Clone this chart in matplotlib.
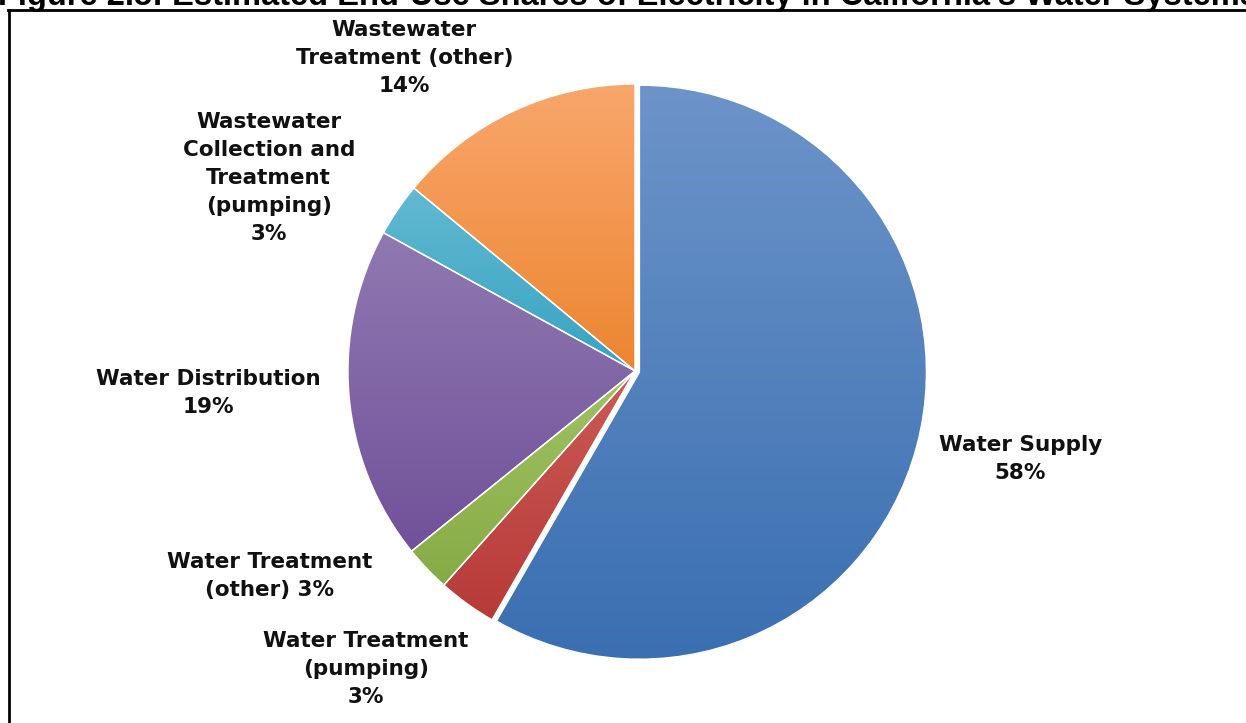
import numpy as np
import matplotlib
matplotlib.use("Agg")
import matplotlib.pyplot as plt
from matplotlib.colors import LinearSegmentedColormap
from matplotlib.lines import Line2D

# end-use shares of electricity, clockwise from 12 o'clock
categories = [
    "Water Supply",
    "Water Treatment\n(pumping)",
    "Water Treatment\n(other)",
    "Water Distribution",
    "Wastewater\nCollection and\nTreatment\n(pumping)",
    "Wastewater\nTreatment (other)",
]
shares = [58.3, 3.3, 2.6, 18.8, 3.0, 14.0]

# (top, bottom) shades for the vertical gradient on each slice
top_colors = ["#6d94c9", "#cb5a55", "#a3c264", "#9079b1", "#63b9d1", "#f9a66c"]
bottom_colors = ["#3a6fb1", "#b73b38", "#86ab45", "#71519a", "#37a3c3", "#ec8630"]

# where each label sits, in pie-radius units from the centre
label_pos = [(1.343, -0.305), (-0.937, -1.040), (-1.273, -0.714),
             (-1.486, -0.077), (-1.276, 0.674), (-0.804, 1.090)]
# which labels put the percent on its own line
pct_newline = [True, True, False, True, True, True]

W, H = 1246, 723
cx, cy, R = 635, 371, 287

fig = plt.figure(figsize=(W / 100, H / 100), dpi=100)
ax = fig.add_axes([0, 0, 1, 1])

wedges, _ = ax.pie(shares, startangle=90, counterclock=False,
                   explode=[0.016, 0, 0, 0, 0, 0],
                   wedgeprops=dict(edgecolor="white", linewidth=1.0))

for w, c0, c1 in zip(wedges, top_colors, bottom_colors):
    ext = w.get_path().get_extents()
    cmap = LinearSegmentedColormap.from_list("g", [c0, c1])
    grad = np.linspace(0, 1, 256).reshape(-1, 1)
    im = ax.imshow(grad, cmap=cmap, aspect="auto", origin="upper",
                   extent=(ext.x0, ext.x1, ext.y0, ext.y1), zorder=0.5,
                   interpolation="bilinear")
    im.set_clip_path(w)
    w.set_facecolor("none")

for name, val, (lx, ly), nl in zip(categories, shares, label_pos, pct_newline):
    sep = "\n" if nl else " "
    ax.text(lx, ly, f"{name}{sep}{val:.0f}%", ha="center", va="center",
            multialignment="center", fontsize=15.5, fontweight="bold",
            family="DejaVu Sans", linespacing=1.5, color="#111111")

ax.set_xlim(-cx / R, (W - cx) / R)
ax.set_ylim((cy - H) / R, cy / R)
ax.set_aspect("auto")
ax.axis("off")

# heading, partly cut off above the frame
fig.text(-2 / W, 1 - 5.5 / H,
         "Figure 2.5: Estimated End-Use Shares of Electricity in "
         "California's Water Systems",
         ha="left", va="baseline", fontsize=23.5, fontweight="bold",
         family="Liberation Sans")

# chart frame (left and top edges)
fig.add_artist(Line2D([8.5 / W, 8.5 / W], [0, 1 - 9.5 / H],
                      transform=fig.transFigure, color="black", lw=2))
fig.add_artist(Line2D([7.5 / W, 1], [1 - 9.5 / H, 1 - 9.5 / H],
                      transform=fig.transFigure, color="black", lw=2))

fig.savefig("out.png", dpi=100)
